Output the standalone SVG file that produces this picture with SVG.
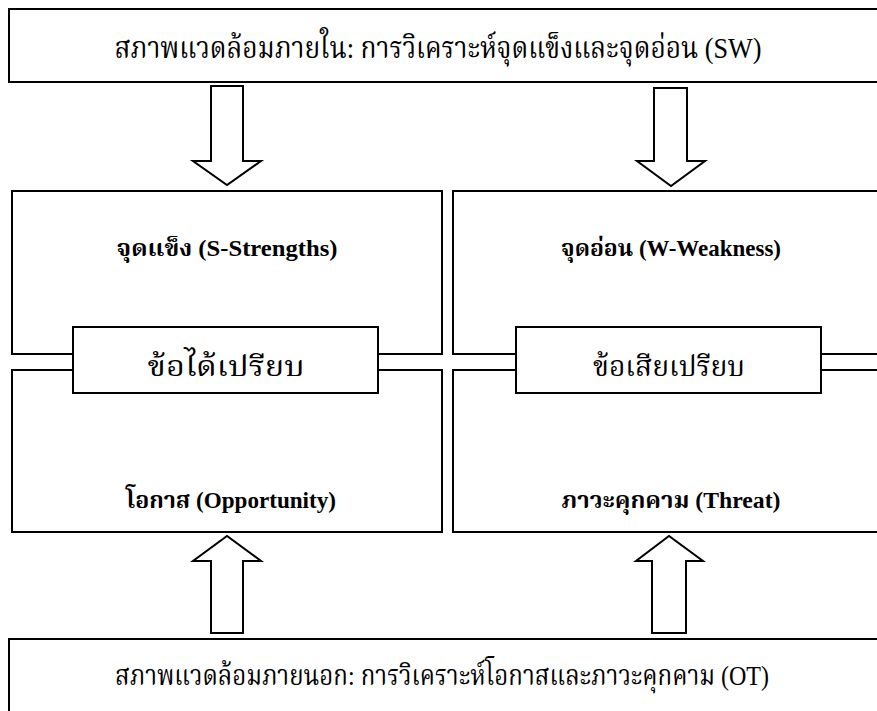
<svg xmlns="http://www.w3.org/2000/svg" width="877" height="711" viewBox="0 0 877 711">
<style>
.box{fill:#fff;stroke:#000;stroke-width:2}
.arrow{fill:#fff;stroke:#000;stroke-width:2;stroke-linejoin:miter}
.t{font-family:"Liberation Serif","Noto Serif Thai","Noto Sans Thai",serif;fill:#000;text-anchor:middle}
.big{font-size:30px}
.bot{font-size:28px}
.mid{font-size:29px}
.b{font-size:23px;font-weight:bold}
</style>
<rect width="877" height="711" fill="#fff"/>
<g id="internal">
<rect class="box" x="9" y="9" width="890" height="73"/>
<text class="t big" x="438" y="58" textLength="647" lengthAdjust="spacingAndGlyphs">สภาพแวดล้อมภายใน: การวิเคราะห์จุดแข็งและจุดอ่อน (SW)</text>
</g>
<g id="strengths">
<rect class="box" x="12" y="191" width="430" height="163"/>
<text class="t b" x="227" y="256" textLength="221" lengthAdjust="spacingAndGlyphs">จุดแข็ง (S-Strengths)</text>
</g>
<g id="weakness">
<rect class="box" x="453" y="191" width="440" height="163"/>
<text class="t b" x="671" y="256" textLength="220" lengthAdjust="spacingAndGlyphs">จุดอ่อน (W-Weakness)</text>
</g>
<g id="opportunity">
<rect class="box" x="12" y="370" width="430" height="162"/>
<text class="t b" x="231" y="508" textLength="210" lengthAdjust="spacingAndGlyphs">โอกาส (Opportunity)</text>
</g>
<g id="threat">
<rect class="box" x="453" y="370" width="440" height="162"/>
<text class="t b" x="671" y="508" textLength="219" lengthAdjust="spacingAndGlyphs">ภาวะคุกคาม (Threat)</text>
</g>
<g id="advantage">
<rect class="box" x="73" y="327" width="305" height="66"/>
<text class="t mid" x="226" y="376" textLength="157" lengthAdjust="spacingAndGlyphs">ข้อได้เปรียบ</text>
</g>
<g id="disadvantage">
<rect class="box" x="516" y="327" width="305" height="66"/>
<text class="t mid" x="669" y="376" textLength="152" lengthAdjust="spacingAndGlyphs">ข้อเสียเปรียบ</text>
</g>
<g id="external">
<rect class="box" x="9" y="639" width="890" height="90"/>
<text class="t bot" x="442" y="685" textLength="654" lengthAdjust="spacingAndGlyphs">สภาพแวดล้อมภายนอก: การวิเคราะห์โอกาสและภาวะคุกคาม (OT)</text>
</g>
<g id="connectors">
<polygon class="arrow" points="211,86 243,86 243,161 261,161 227,185 193,161 211,161"/>
<polygon class="arrow" points="654,88 687,88 687,161 705,161 671,186 637,161 654,161"/>
<polygon class="arrow" points="211,633 243,633 243,561 261,561 227,536 193,561 211,561"/>
<polygon class="arrow" points="652,633 686,633 686,561 703,561 669,536 636,561 652,561"/>
</g>
</svg>
